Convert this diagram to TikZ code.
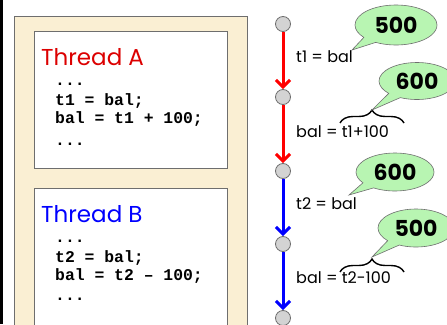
\documentclass[tikz,border=0pt]{standalone}
\usepackage{fontspec}
\setmainfont{Poppins}
\newfontfamily\codefont{Liberation Mono}
\usetikzlibrary{shapes.callouts,shapes.geometric,decorations.pathreplacing,arrows.meta}
\definecolor{panelbeige}{HTML}{FAEFD3}
\definecolor{bubblegreen}{HTML}{B8F5B2}
\definecolor{dotgray}{HTML}{D3D3D3}
\definecolor{edgegray}{HTML}{6E6E6E}
\tikzset{
  title/.style={anchor=base west, inner sep=0pt, font=\fontsize{23}{23}\selectfont},
  codeline/.style={anchor=base west, inner sep=0pt, font=\codefont\bfseries\fontsize{16.4}{16}\selectfont},
  steplabel/.style={anchor=base west, inner sep=0pt, font=\fontsize{16}{16}\selectfont},
  statedot/.style={circle, draw=edgegray, fill=dotgray, minimum size=15pt, inner sep=0pt, line width=0.8pt},
  bubble/.style={ellipse callout, draw=edgegray, fill=bubblegreen, line width=0.6pt, inner sep=0pt, callout pointer arc=22, font=\bfseries\fontsize{22}{22}\selectfont},
  flowA/.style={draw=red, line width=3pt, -{Straight Barb[length=7pt,width=14pt]}},
  flowB/.style={draw=blue, line width=3pt, -{Straight Barb[length=7pt,width=14pt]}},
  bracemark/.style={decorate, decoration={brace, amplitude=13pt}, line width=1.4pt}
}
\begin{document}
\begin{tikzpicture}[x=1pt,y=-1pt]
\useasboundingbox (0,0) rectangle (447,324);
\clip (0,0) rectangle (447,324);
\fill[white] (0,0) rectangle (447,324);
\fill[black] (0,0) rectangle (3,324);
% panel
\draw[edgegray, fill=panelbeige, line width=0.8pt] (14,16) rectangle (247,340);
\draw[edgegray, fill=white, line width=0.8pt] (34,31) rectangle (227,168);
\draw[edgegray, fill=white, line width=0.8pt] (34,188) rectangle (227,340);
% thread A
\node[title, text={rgb,255:red,220;green,0;blue,0}] (tA) at (41,65) {Thread A};
\node[codeline] (a1) at (55,85) {...};
\node[codeline] (a2) at (55,105) {t1 = bal;};
\node[codeline] (a3) at (55,123) {bal = t1 + 100;};
\node[codeline] (a4) at (55,145) {...};
% thread B
\node[title, text=blue] (tB) at (41,222) {Thread B};
\node[codeline] (b1) at (55,242) {...};
\node[codeline] (b2) at (55,262) {t2 = bal;};
\node[codeline] (b3) at (55,280) {bal = t2 – 100;};
\node[codeline] (b4) at (55,300) {...};
% timeline
\node[statedot] (s1) at (283,24) {};
\node[statedot] (s2) at (283,97) {};
\node[statedot] (s3) at (283,171) {};
\node[statedot] (s4) at (283,244) {};
\node[statedot] (s5) at (283,318) {};
\draw[flowA] (s1) -- (s2);
\draw[flowA] (s2) -- (s3);
\draw[flowB] (s3) -- (s4);
\draw[flowB] (s4) -- (s5);
% labels
\node[steplabel] (l1) at (296,62) {t1 = bal};
\node[steplabel] (l2) at (296,137) {bal = t1+100};
\node[steplabel] (l3) at (296,209) {t2 = bal};
\node[steplabel] (l4) at (296,283) {bal = t2-100};
% braces
\coordinate (br2a) at (340,123);
\coordinate (br2b) at (404,123);
\coordinate (br4a) at (340,272);
\coordinate (br4b) at (404,272);
\draw[bracemark] (br2a) -- (br2b);
\draw[bracemark] (br4a) -- (br4b);
% bubbles
\node[bubble, minimum width=82pt, minimum height=40pt, callout absolute pointer={(352,50)}] (v1) at (396,25) {500};
\node[bubble, minimum width=76pt, minimum height=37pt, callout absolute pointer={(372,110)}] (v2) at (417,81) {600};
\node[bubble, minimum width=78pt, minimum height=38pt, callout absolute pointer={(349,195)}] (v3) at (395,172) {600};
\node[bubble, minimum width=76pt, minimum height=38pt, callout absolute pointer={(372,257)}] (v4) at (416,228) {500};
\end{tikzpicture}
\end{document}
